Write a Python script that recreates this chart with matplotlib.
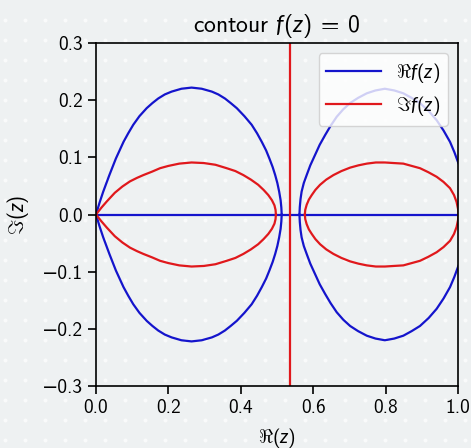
import numpy as np
import matplotlib
matplotlib.use("Agg")
import matplotlib.pyplot as plt

plt.rcParams['font.family'] = ['cmss10', 'DejaVu Sans']
plt.rcParams['mathtext.fontset'] = 'custom'
plt.rcParams['mathtext.rm'] = 'cmss10'
plt.rcParams['mathtext.sf'] = 'cmss10'
plt.rcParams['mathtext.it'] = 'Lato:italic'
plt.rcParams['axes.formatter.use_mathtext'] = False
plt.rcParams['axes.unicode_minus'] = True
plt.rcParams['font.size'] = 14

# zero set of Re f : upper halves of the loops (lower halves are the mirror)
re_left_x = [0.000, 0.010, 0.020, 0.037, 0.055, 0.076, 0.089, 0.103, 0.120, 0.140,
             0.156, 0.172, 0.190, 0.209, 0.236, 0.264, 0.292, 0.320, 0.338, 0.356,
             0.372, 0.389, 0.410, 0.430, 0.445, 0.458, 0.470, 0.479, 0.488, 0.495,
             0.501, 0.506, 0.510, 0.512, 0.513]
re_left_y = [0.000, 0.021, 0.040, 0.069, 0.098, 0.127, 0.142, 0.157, 0.172, 0.186,
             0.195, 0.203, 0.210, 0.215, 0.220, 0.222, 0.220, 0.215, 0.210, 0.203,
             0.195, 0.186, 0.172, 0.157, 0.142, 0.127, 0.112, 0.098, 0.083, 0.069,
             0.055, 0.040, 0.025, 0.012, 0.000]
re_right_x = [0.562, 0.563, 0.565, 0.568, 0.574, 0.582, 0.592, 0.605, 0.618, 0.633,
              0.648, 0.665, 0.683, 0.702, 0.724, 0.748, 0.772, 0.798, 0.824, 0.849,
              0.872, 0.895, 0.919, 0.941, 0.960, 0.978, 0.990, 1.001]
re_right_y = [0.000, 0.013, 0.027, 0.040, 0.055, 0.069, 0.086, 0.104, 0.122, 0.139,
              0.155, 0.171, 0.184, 0.195, 0.204, 0.212, 0.217, 0.220, 0.217, 0.212,
              0.204, 0.195, 0.181, 0.165, 0.147, 0.127, 0.109, 0.090]

# zero set of Im f
im_left_x = [0.000, 0.015, 0.030, 0.052, 0.073, 0.094, 0.113, 0.131, 0.155, 0.177,
             0.200, 0.230, 0.264, 0.298, 0.330, 0.361, 0.385, 0.407, 0.428, 0.448,
             0.463, 0.476, 0.486, 0.493, 0.496, 0.497]
im_left_y = [0.000, 0.012, 0.023, 0.038, 0.049, 0.058, 0.064, 0.069, 0.075, 0.081,
             0.085, 0.089, 0.091, 0.090, 0.087, 0.081, 0.076, 0.069, 0.061, 0.052,
             0.043, 0.034, 0.025, 0.016, 0.008, 0.000]
im_right_x = [0.577, 0.578, 0.582, 0.588, 0.596, 0.606, 0.619, 0.636, 0.656, 0.678,
              0.702, 0.725, 0.748, 0.773, 0.798, 0.823, 0.849, 0.872, 0.895, 0.918,
              0.941, 0.960, 0.978, 0.989, 0.996, 1.000, 1.002]
im_right_y = [0.000, 0.008, 0.017, 0.026, 0.034, 0.043, 0.052, 0.061, 0.069, 0.076,
              0.082, 0.086, 0.089, 0.091, 0.091, 0.090, 0.089, 0.085, 0.081, 0.074,
              0.066, 0.057, 0.046, 0.034, 0.022, 0.010, 0.000]
im_vertical_x = 0.535

blue = '#1414cc'
red = '#e0181c'
bg = '#eef1f2'
fig = plt.figure(figsize=(4.71, 4.48), dpi=100, facecolor=bg)

# dotted page texture behind everything
bgax = fig.add_axes([0, 0, 1, 1], zorder=-10)
bgax.set_xlim(0, 471)
bgax.set_ylim(0, 448)
gx, gy = np.meshgrid(np.arange(5, 471, 20), np.arange(8, 448, 20))
bgax.scatter(gx.ravel(), gy.ravel(), s=8, color='white', alpha=0.7, lw=0)
bgax.axis('off')

ax = fig.add_axes([0.2038, 0.1384, 0.9724 - 0.2038, 0.904 - 0.1384])
ax.patch.set_alpha(0)

lw = 1.6
for xs, ys in [(re_left_x, re_left_y), (re_right_x, re_right_y)]:
    xs = np.array(xs)
    ys = np.array(ys)
    ax.plot(xs, ys, color=blue, lw=lw)
    ax.plot(xs, -ys, color=blue, lw=lw)
ax.axhline(0, color=blue, lw=lw)
ax.plot([], [], color=blue, lw=lw, label=r'$\Re f(z)$')

for xs, ys in [(im_left_x, im_left_y), (im_right_x, im_right_y)]:
    xs = np.array(xs)
    ys = np.array(ys)
    ax.plot(xs, ys, color=red, lw=lw)
    ax.plot(xs, -ys, color=red, lw=lw)
ax.axvline(im_vertical_x, color=red, lw=lw)
ax.plot([], [], color=red, lw=lw, label=r'$\Im f(z)$')

ax.set_xlim(0, 1)
ax.set_ylim(-0.3, 0.3)
ax.set_xticks([0.0, 0.2, 0.4, 0.6, 0.8, 1.0])
ax.set_yticks([-0.3, -0.2, -0.1, 0.0, 0.1, 0.2, 0.3])
ax.set_xlabel(r'$\Re(z)$', labelpad=6)
ax.set_ylabel(r'$\Im(z)$', labelpad=8, fontsize=15)
ax.set_title(r'contour $f(z)\;=\;0$', fontsize=17, pad=8)
ax.tick_params(length=6, width=1.2, labelsize=14)
for s in ax.spines.values():
    s.set_linewidth(1.2)
ax.legend(loc='upper right', fontsize=14, handlelength=2.8)

fig.savefig('out.png', dpi=100, facecolor=bg)
